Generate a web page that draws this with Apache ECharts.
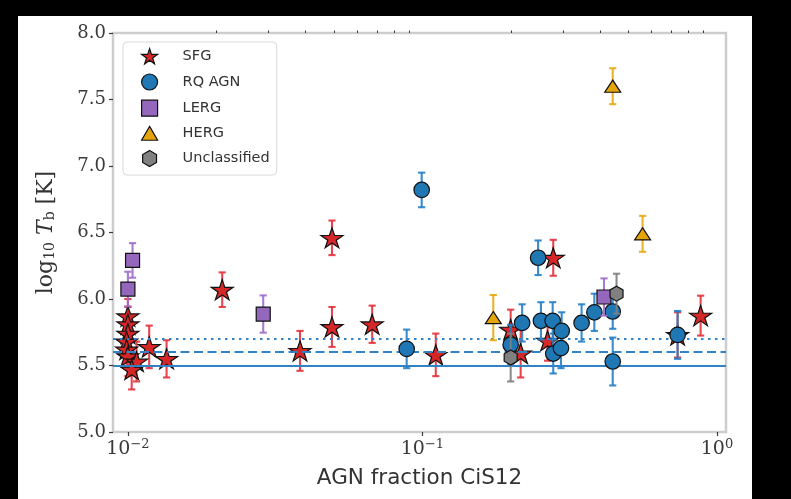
<!DOCTYPE html>
<html>
<head>
<meta charset="utf-8">
<script src="https://cdn.jsdelivr.net/npm/echarts@6/dist/echarts.min.js"></script>
<style>
  html, body { margin: 0; padding: 0; background: #000; }
  #wrap { position: relative; width: 791px; height: 499px; background: #000; }
  #paper { position: absolute; left: 18px; top: 16px; width: 734px; height: 483px; background: #fff; }
  #chart { position: absolute; left: 0; top: 0; width: 791px; height: 499px; }
</style>
</head>
<body>
<div id="wrap"><div id="paper"></div><div id="chart"></div></div>
<script>
// Brightness temperature vs. AGN fraction, by source class.
// Each class: AGN fraction, log10 Tb, and 1-sigma uncertainty on log10 Tb.

const sfgX   = [0.0100, 0.0100, 0.0100, 0.0099, 0.0099, 0.0100, 0.0107, 0.0103, 0.01181, 0.01353,
                0.0209, 0.0384, 0.0493, 0.0493, 0.0675, 0.111, 0.1993, 0.2155, 0.266, 0.278, 0.735, 0.880];
const sfgY   = [5.87, 5.81, 5.74, 5.68, 5.62, 5.57, 5.53, 5.47, 5.64, 5.55,
                6.07, 5.61, 6.46, 5.79, 5.81, 5.58, 5.77, 5.59, 5.686, 6.31, 5.73, 5.875];
const sfgErr = [0.13, 0.13, 0.14, 0.14, 0.14, 0.15, 0.15, 0.15, 0.16, 0.14,
                0.13, 0.15, 0.13, 0.15, 0.14, 0.16, 0.15, 0.18, 0.15, 0.135, 0.17, 0.15];

const rqX   = [0.0884, 0.0994, 0.1993, 0.218, 0.247, 0.2525, 0.2768, 0.297, 0.278, 0.2953,
               0.347, 0.3834, 0.4426, 0.4426, 0.735];
const rqY   = [5.625, 6.82, 5.656, 5.82, 6.31, 5.836, 5.836, 5.76, 5.59, 5.63,
               5.82, 5.90, 5.906, 5.53, 5.73];
const rqErr = [0.145, 0.13, 0.15, 0.14, 0.13, 0.14, 0.14, 0.14, 0.15, 0.15,
               0.14, 0.14, 0.13, 0.18, 0.18];

const lergX   = [0.01037, 0.0100, 0.0288, 0.4134];
const lergY   = [6.29, 6.075, 5.887, 6.015];
const lergErr = [0.13, 0.13, 0.14, 0.14];

const hergX   = [0.174, 0.4426, 0.559];
const hergY   = [5.86, 7.60, 6.49];
const hergErr = [0.17, 0.135, 0.135];

const unclX   = [0.1993, 0.456];
const unclY   = [5.56, 6.04];
const unclErr = [0.18, 0.15];

// Reference levels of log10 Tb (solid, dashed, dotted)
const refLevels = [5.5, 5.6, 5.7];
const refStyles = ['solid', [9, 4.5], [2.5, 4.5]];

const classNames = ['SFG', 'RQ AGN', 'LERG', 'HERG', 'Unclassified'];

const xTickValues = [0.01, 0.1, 1];
const xTickExponents = ['\u22122', '\u22121', '0'];
const xMinorTicks = [0.02, 0.03, 0.04, 0.05, 0.06, 0.07, 0.08, 0.09,
                     0.2, 0.3, 0.4, 0.5, 0.6, 0.7, 0.8, 0.9];

const zip = (xs, ys, es) => xs.map((x, i) => [x, ys[i], es[i]]);

const STAR = 'path://M0,-100 L-22.45,-30.9 L-95.1,-30.9 L-36.33,11.8 L-58.8,80.9 L0,38.2 L58.8,80.9 L36.33,11.8 L95.1,-30.9 L22.45,-30.9 Z';
const HEX = 'path://M0,-100 L86.6,-50 L86.6,50 L0,100 L-86.6,50 L-86.6,-50 Z';
const SQUARE = 'path://M-50,-50 L50,-50 L50,50 L-50,50 Z';
const TRI = 'path://M0,-100 L86.6,50 L-86.6,50 Z';

const classes = [
  { name: 'SFG', data: zip(sfgX, sfgY, sfgErr), fill: '#d62728', bar: 'rgba(228,50,60,0.9)', symbol: STAR, size: [22, 21] },
  { name: 'RQ AGN', data: zip(rqX, rqY, rqErr), fill: '#1f77b4', bar: 'rgba(35,128,200,0.9)', symbol: 'circle', size: 15.5 },
  { name: 'LERG', data: zip(lergX, lergY, lergErr), fill: '#9467bd', bar: 'rgba(160,110,205,0.9)', symbol: SQUARE, size: 14 },
  { name: 'HERG', data: zip(hergX, hergY, hergErr), fill: '#e5a50a', bar: 'rgba(232,170,20,0.9)', symbol: TRI, size: [16, 14] },
  { name: 'Unclassified', data: zip(unclX, unclY, unclErr), fill: '#808080', bar: 'rgba(128,128,128,0.9)', symbol: HEX, size: 15 }
];

function errorBars(color) {
  return function (params, api) {
    const x = api.value(0), y = api.value(1), e = api.value(2);
    const top = api.coord([x, y + e]);
    const bot = api.coord([x, y - e]);
    const hw = 3.6;
    const style = { stroke: color, lineWidth: 2.1, fill: null };
    return {
      type: 'group',
      children: [
        { type: 'line', shape: { x1: top[0], y1: top[1], x2: bot[0], y2: bot[1] }, style },
        { type: 'line', shape: { x1: top[0] - hw, y1: top[1], x2: top[0] + hw, y2: top[1] }, style },
        { type: 'line', shape: { x1: bot[0] - hw, y1: bot[1], x2: bot[0] + hw, y2: bot[1] }, style }
      ]
    };
  };
}

const series = [];
classes.forEach((c, k) => {
  series.push({
    name: c.name + ' err',
    type: 'custom',
    renderItem: errorBars(c.bar),
    data: c.data,
    encode: { x: 0, y: 1 },
    z: 2 + 2 * k,
    silent: true
  });
  series.push({
    name: c.name,
    type: 'scatter',
    data: c.data.map(d => [d[0], d[1]]),
    symbol: c.symbol,
    symbolSize: c.size,
    symbolKeepAspect: true,
    itemStyle: { color: c.fill, borderColor: '#111', borderWidth: 1.2, opacity: 1 },
    z: 3 + 2 * k,
    emphasis: { disabled: true }
  });
});

series.push({
  name: 'levels',
  type: 'line',
  data: [],
  z: 1,
  markLine: {
    silent: true,
    symbol: ['none', 'none'],
    label: { show: false },
    data: refLevels.map((v, i) => ({
      yAxis: v,
      lineStyle: { color: '#3283c6', width: 2, type: refStyles[i], cap: 'butt' }
    }))
  }
});

const tickColor = '#3a3a3a';
const serif = 'DejaVu Serif';

const option = {
  animation: false,
  grid: {
    left: 113, right: 65, top: 33, bottom: 67,
    show: true, borderColor: '#cdcdcd', borderWidth: 2.5, backgroundColor: 'transparent'
  },
  legend: {
    data: classNames.map((n, k) => ({ name: n, icon: classes[k].symbol })),
    orient: 'vertical',
    left: 123, top: 42,
    itemWidth: 16, itemHeight: 16, itemGap: 9,
    symbolKeepAspect: true,
    padding: [6, 7, 8, 18],
    backgroundColor: '#fff',
    borderColor: '#d9d9d9', borderWidth: 1, borderRadius: 4,
    itemStyle: { borderColor: '#111', borderWidth: 1.2 },
    textStyle: { fontFamily: 'DejaVu Sans', fontSize: 14.5, color: '#333', padding: [0, 0, 0, 20] },
    selectedMode: false
  },
  xAxis: [
    {
      type: 'log', logBase: 10, min: 0.0089, max: 1.073,
      name: 'AGN fraction CiS12', nameLocation: 'middle', nameGap: 35,
      nameTextStyle: { fontFamily: 'DejaVu Sans', fontSize: 21.5, color: '#333' },
      axisLine: { show: false },
      splitLine: { show: false },
      axisTick: { show: true, customValues: xTickValues, length: 4, lineStyle: { color: tickColor, width: 1.2 } },
      axisLabel: {
        customValues: xTickValues,
        margin: 6,
        formatter: function (v) {
          let i = 0;
          xTickValues.forEach((t, j) => { if (Math.abs(Math.log10(t) - Math.log10(v)) < 1e-6) i = j; });
          return '{b|10}{s|' + xTickExponents[i] + '}';
        },
        rich: {
          b: { fontFamily: serif, fontSize: 19, color: tickColor },
          s: { fontFamily: serif, fontSize: 13, color: tickColor, padding: [0, 0, 10, 0] }
        }
      }
    },
    {
      type: 'log', logBase: 10, min: 0.0089, max: 1.073,
      axisLine: { show: false },
      splitLine: { show: false },
      axisLabel: { show: false },
      axisTick: { show: true, customValues: xMinorTicks, length: 2.5, lineStyle: { color: tickColor, width: 1 } }
    }
  ],
  yAxis: {
    type: 'value', min: 5, max: 8, interval: 0.5,
    name: '{r|log}{sub|10}{r| }{i|T}{sub|b}{r| [K]}',
    nameLocation: 'middle', nameRotate: 90, nameGap: 56,
    nameTextStyle: {
      rich: {
        r: { fontFamily: serif, fontSize: 22, color: '#333' },
        i: { fontFamily: serif, fontSize: 22, fontStyle: 'italic', color: '#333' },
        sub: { fontFamily: serif, fontSize: 14, color: '#333', padding: [8, 0, 0, 0] }
      }
    },
    axisLine: { show: false },
    splitLine: { show: false },
    axisTick: { show: true, length: 4, lineStyle: { color: tickColor, width: 1.2 } },
    axisLabel: {
      margin: 7,
      fontFamily: serif, fontSize: 18, color: tickColor,
      formatter: v => v.toFixed(1)
    }
  },
  series: series
};

const chart = echarts.init(document.getElementById('chart'), null, { renderer: 'canvas' });
chart.setOption(option);
</script>
</body>
</html>
